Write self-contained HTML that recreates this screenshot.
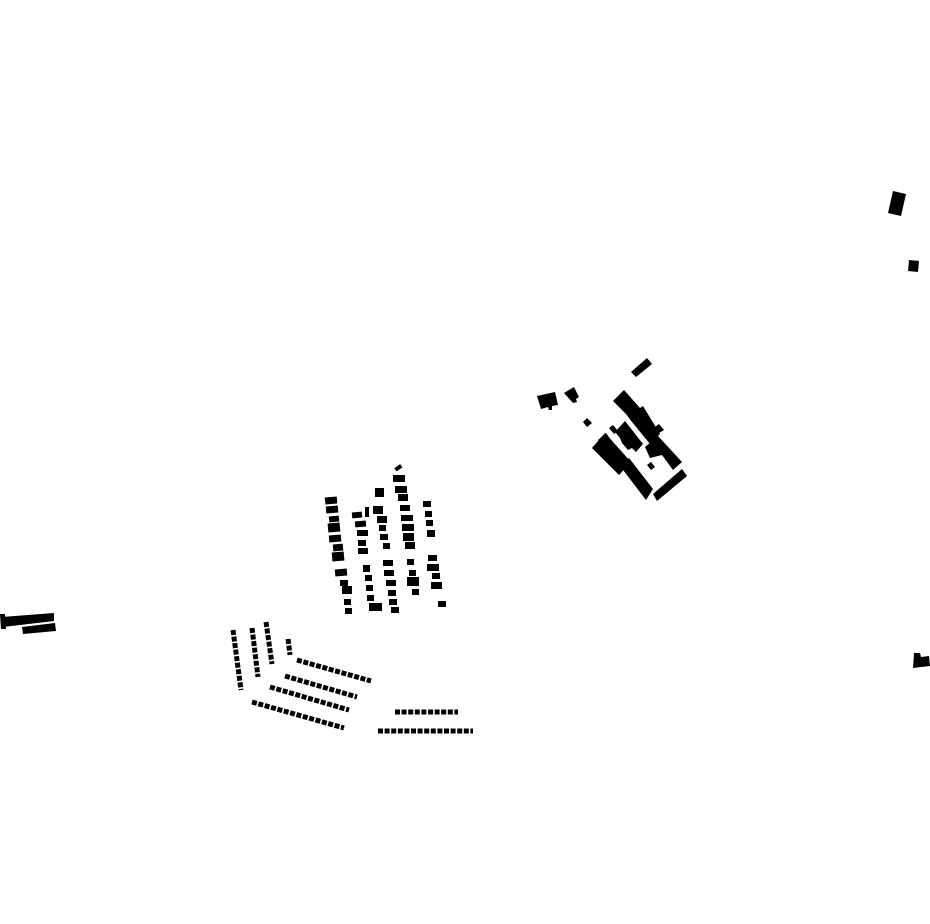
<!DOCTYPE html>
<html><head><meta charset="utf-8"><style>html,body{margin:0;padding:0;background:#fff}svg{display:block}</style></head>
<body>
<svg width="930" height="924" viewBox="0 0 930 924" xmlns="http://www.w3.org/2000/svg">
<g fill="#000">
<polygon points="2,617 54,613 54,621 3,627"/>
<polygon points="22,627 55,623 56,631 23,634"/>
<polygon points="0,614 5,614 6,629 1,629"/>
<polygon points="893,191 906,194 901,216 888,213"/>
<polygon points="909,260 919,261 918,272 908,271"/>
<polygon points="914,653 920,653 921,657 929,656 930,666 913,668"/>
<!-- cluster 2 -->
<polygon points="631,372 647,358 652,364 636,377"/>
<polygon points="537,396 555,392 558,405 552,406 552,410 549,410 548,407 541,409"/>
<polygon points="564,393 574,387 579,397 576,399 577,402 573,403"/>
<polygon points="583,422 587,418 592,423 587,427"/>
<polygon points="613,401 624,390 640,408 643,406 660,434 650,444 632,422 626,414"/>
<polygon points="592,448 605,433 631,462 619,475"/>
<polygon points="620,466 629,458 653,489 646,500"/>
<polygon points="653,494 682,469 687,476 657,501"/>
<polygon points="615,432 625,421 643,444 636,452 632,448 628,450 622,443 620,438"/>
<polygon points="645,447 658,436 682,462 673,470 662,455 650,458"/>
<polygon points="647,465 651,462 655,467 651,470"/>
<polygon points="655,427 659,424 664,430 659,433"/>
<polygon points="609,428 613,425 618,431 614,434"/>
<polygon points="598,440 606,433 613,443 604,449"/>
</g>
<g stroke="#000" stroke-width="5" stroke-dasharray="5 1.6" fill="none">
<line x1="233" y1="630" x2="241" y2="690"/>
<line x1="252" y1="628" x2="258" y2="677"/>
<line x1="266" y1="622" x2="272" y2="664"/>
<line x1="288" y1="639" x2="290" y2="655"/>
<line x1="297" y1="660" x2="371" y2="681"/>
<line x1="285" y1="676" x2="357" y2="697"/>
<line x1="270" y1="687" x2="349" y2="710"/>
<line x1="252" y1="702" x2="344" y2="728"/>
<line x1="395" y1="712" x2="458" y2="712"/>
<line x1="378" y1="731" x2="473" y2="731"/>
</g>
<g fill="#000">
<rect x="325" y="497" width="12" height="7" transform="rotate(-5 331 500)"/>
<rect x="326" y="506" width="12" height="7" transform="rotate(-5 332 509)"/>
<rect x="329" y="516" width="10" height="6" transform="rotate(-5 334 519)"/>
<rect x="328" y="523" width="12" height="9" transform="rotate(-5 334 528)"/>
<rect x="329" y="535" width="12" height="7" transform="rotate(-5 335 538)"/>
<rect x="333" y="544" width="10" height="7" transform="rotate(-5 338 547)"/>
<rect x="332" y="552" width="12" height="9" transform="rotate(-5 338 556)"/>
<rect x="335" y="569" width="12" height="7" transform="rotate(-5 341 572)"/>
<rect x="340" y="580" width="8" height="6"/>
<rect x="342" y="586" width="10" height="8"/>
<rect x="344" y="599" width="7" height="6"/>
<rect x="345" y="608" width="7" height="6"/>
<rect x="352" y="512" width="10" height="6" transform="rotate(-5 357 515)"/>
<rect x="355" y="521" width="11" height="6" transform="rotate(-5 360 524)"/>
<rect x="357" y="530" width="11" height="6"/>
<rect x="358" y="540" width="8" height="6"/>
<rect x="358" y="548" width="10" height="6"/>
<rect x="365" y="507" width="4" height="10"/>
<rect x="363" y="565" width="7" height="7"/>
<rect x="365" y="575" width="7" height="6"/>
<rect x="366" y="585" width="7" height="6"/>
<rect x="367" y="595" width="7" height="6"/>
<rect x="369" y="603" width="13" height="8"/>
<rect x="375" y="488" width="9" height="9"/>
<rect x="373" y="506" width="10" height="8"/>
<rect x="377" y="516" width="10" height="7"/>
<rect x="379" y="525" width="7" height="6"/>
<rect x="380" y="534" width="8" height="6"/>
<rect x="383" y="543" width="7" height="6"/>
<rect x="383" y="560" width="10" height="6"/>
<rect x="384" y="570" width="10" height="6"/>
<rect x="386" y="580" width="10" height="6"/>
<rect x="388" y="590" width="8" height="6"/>
<rect x="389" y="599" width="8" height="6"/>
<rect x="391" y="607" width="8" height="6"/>
<rect x="395" y="466" width="7" height="4" transform="rotate(-35 398 468)"/>
<rect x="393" y="475" width="12" height="7"/>
<rect x="395" y="486" width="12" height="7"/>
<rect x="398" y="494" width="10" height="7"/>
<rect x="400" y="505" width="10" height="6"/>
<rect x="401" y="515" width="12" height="6"/>
<rect x="402" y="524" width="12" height="7"/>
<rect x="403" y="533" width="11" height="8"/>
<rect x="405" y="542" width="10" height="7"/>
<rect x="407" y="559" width="7" height="6"/>
<rect x="409" y="570" width="7" height="6"/>
<rect x="407" y="577" width="12" height="9"/>
<rect x="412" y="589" width="7" height="6"/>
<rect x="423" y="501" width="8" height="6"/>
<rect x="425" y="511" width="7" height="6"/>
<rect x="426" y="520" width="7" height="6"/>
<rect x="427" y="530" width="8" height="7"/>
<rect x="428" y="555" width="9" height="6"/>
<rect x="427" y="564" width="12" height="7"/>
<rect x="432" y="573" width="8" height="6"/>
<rect x="431" y="582" width="11" height="7"/>
<rect x="438" y="601" width="8" height="6"/>
</g>
</svg>
</body></html>
